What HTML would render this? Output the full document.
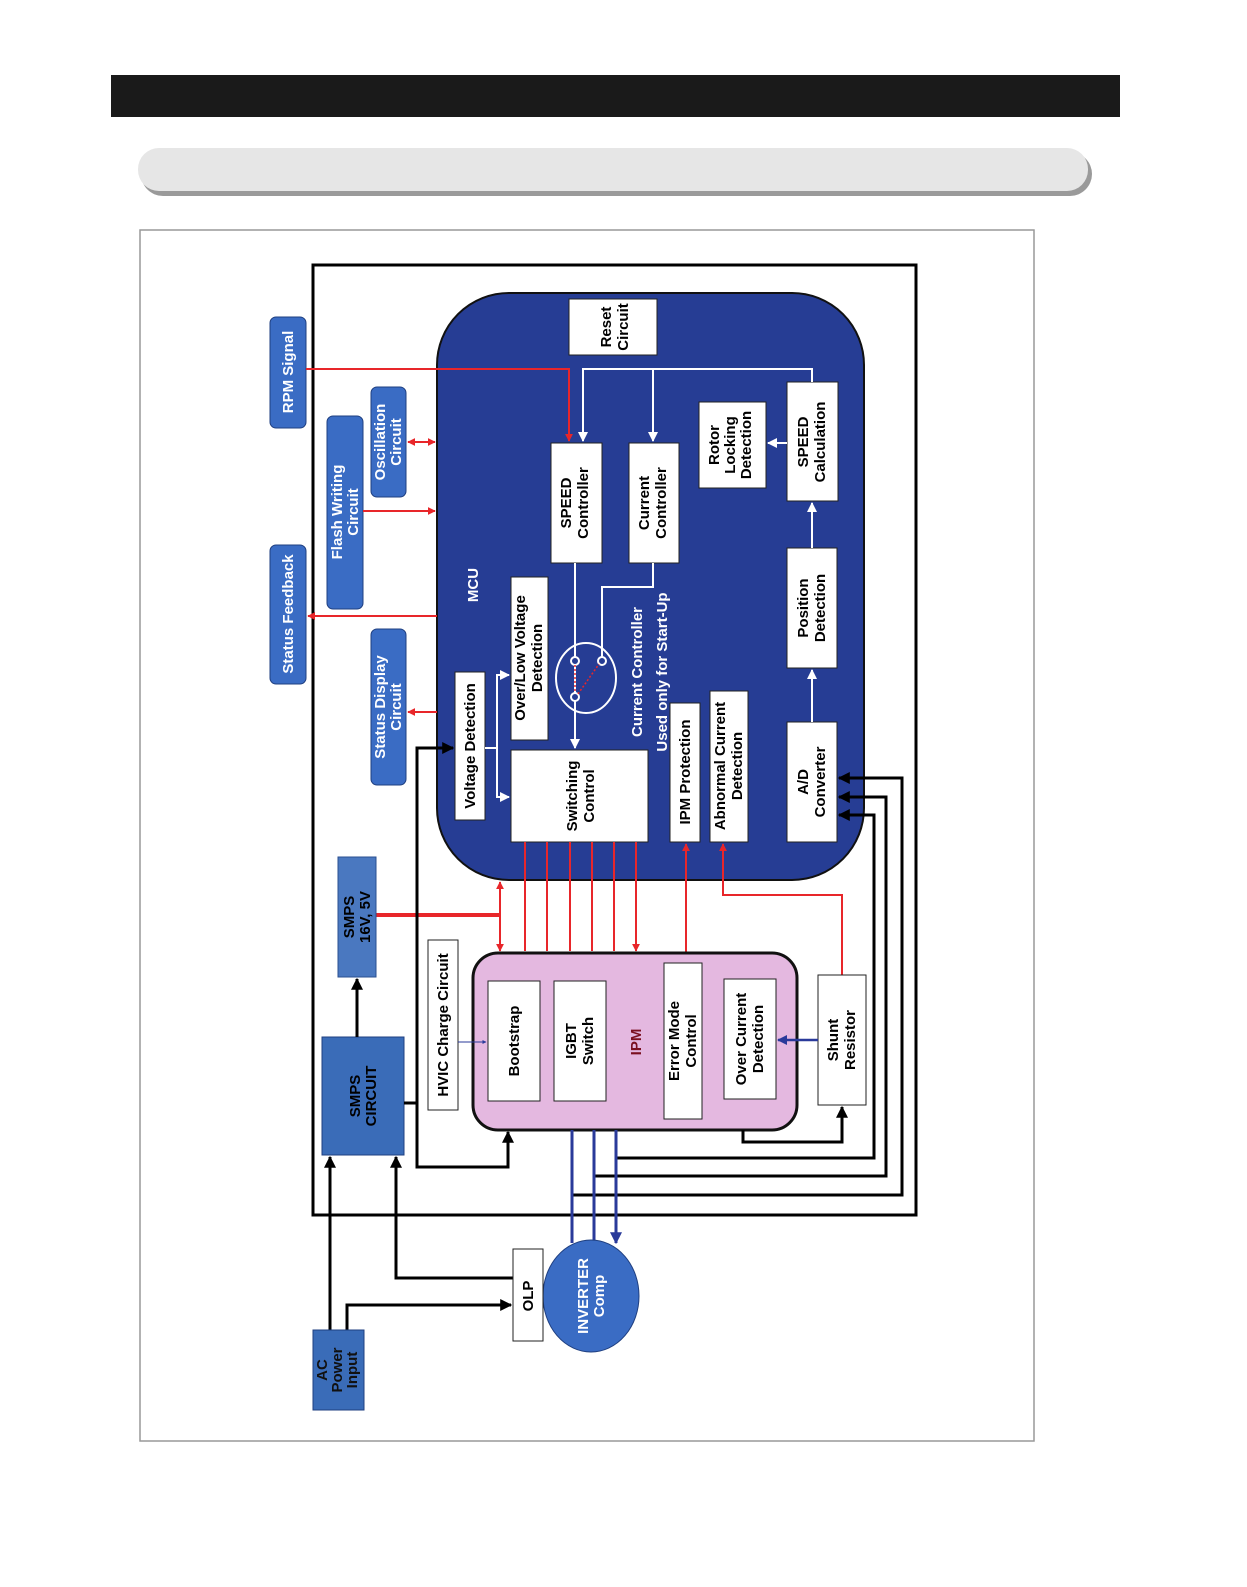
<!DOCTYPE html>
<html><head><meta charset="utf-8"><style>
html,body{margin:0;padding:0;background:#fff;overflow:hidden;width:1247px;height:1587px}
svg{display:block}
text{font-family:"Liberation Sans",Arial,sans-serif;font-weight:bold;font-size:15px}
</style></head><body>
<svg width="1247" height="1587" viewBox="0 0 1247 1587" xmlns="http://www.w3.org/2000/svg">
<defs>
<marker id="ar" viewBox="0 0 10 10" refX="9" refY="5" markerWidth="4" markerHeight="4" orient="auto-start-reverse"><path d="M0,0L10,5L0,10z" fill="#e8262a"/></marker>
<marker id="aw" viewBox="0 0 10 10" refX="9" refY="5" markerWidth="5" markerHeight="5" orient="auto"><path d="M0,0L10,5L0,10z" fill="#fff"/></marker>
<marker id="ak" viewBox="0 0 10 10" refX="9" refY="5" markerWidth="4" markerHeight="4" orient="auto"><path d="M0,0L10,5L0,10z" fill="#000"/></marker>
<marker id="ab" viewBox="0 0 10 10" refX="9" refY="5" markerWidth="4" markerHeight="4" orient="auto"><path d="M0,0L10,5L0,10z" fill="#2a3a9a"/></marker>
</defs>
<rect x="111" y="75" width="1009" height="42" fill="#1a1a1a"/>
<rect x="141" y="152" width="951" height="44" rx="22" fill="#9a9a9a"/>
<rect x="138" y="148" width="950" height="43" rx="21" fill="#e6e6e6"/>
<rect x="140" y="230" width="894" height="1211" fill="none" stroke="#999" stroke-width="1.5"/>
<rect x="313" y="265" width="603" height="950" fill="none" stroke="#000" stroke-width="3"/>

<!-- MCU -->
<rect x="437" y="293" width="427" height="587" rx="72" fill="#263d94" stroke="#111" stroke-width="2"/>
<g fill="#fff" stroke="#222" stroke-width="1">
<rect x="569" y="299" width="88" height="56"/>
<rect x="551" y="443" width="51" height="120"/>
<rect x="629" y="443" width="50" height="120"/>
<rect x="699" y="402" width="67" height="86"/>
<rect x="787" y="382" width="51" height="119"/>
<rect x="787" y="548" width="50" height="120"/>
<rect x="787" y="722" width="50" height="120"/>
<rect x="511" y="577" width="37" height="163"/>
<rect x="455" y="672" width="30" height="148"/>
<rect x="511" y="750" width="137" height="92"/>
<rect x="670" y="703" width="30" height="139"/>
<rect x="710" y="691" width="38" height="151"/>
</g>
<g fill="none" stroke="#fff" stroke-width="2">
<path d="M812,382V369H583V441" marker-end="url(#aw)"/>
<path d="M653,369V441" marker-end="url(#aw)"/>
<path d="M575,563V748" marker-end="url(#aw)"/>
<path d="M653,563V587H602V660"/>
<path d="M485,748H497V675H509" marker-end="url(#aw)"/>
<path d="M497,748V797H509" marker-end="url(#aw)"/>
<path d="M787,443H768" marker-end="url(#aw)"/>
<path d="M812,548V503" marker-end="url(#aw)"/>
<path d="M812,722V670" marker-end="url(#aw)"/>
<ellipse cx="586" cy="678" rx="30" ry="35"/>
</g>
<g fill="#263d94" stroke="#fff" stroke-width="2"><circle cx="575" cy="661" r="4"/><circle cx="602" cy="661" r="4"/><circle cx="575" cy="697" r="4"/></g>
<path d="M575,665V693M578,694L599,664" stroke="#e8262a" stroke-width="1.5" stroke-dasharray="2,2"/>

<g fill="#000">
<text transform="translate(611,327) rotate(-90)" text-anchor="middle">Reset<tspan x="0" dy="17">Circuit</tspan></text>
<text transform="translate(571,503) rotate(-90)" text-anchor="middle">SPEED<tspan x="0" dy="17">Controller</tspan></text>
<text transform="translate(649,503) rotate(-90)" text-anchor="middle">Current<tspan x="0" dy="17">Controller</tspan></text>
<text transform="translate(719,445) rotate(-90)" text-anchor="middle">Rotor<tspan x="0" dy="16">Locking</tspan><tspan x="0" dy="16">Detection</tspan></text>
<text transform="translate(808,442) rotate(-90)" text-anchor="middle">SPEED<tspan x="0" dy="17">Calculation</tspan></text>
<text transform="translate(808,608) rotate(-90)" text-anchor="middle">Position<tspan x="0" dy="17">Detection</tspan></text>
<text transform="translate(808,782) rotate(-90)" text-anchor="middle">A/D<tspan x="0" dy="17">Converter</tspan></text>
<text transform="translate(525,658) rotate(-90)" text-anchor="middle">Over/Low Voltage<tspan x="0" dy="17">Detection</tspan></text>
<text transform="translate(475,746) rotate(-90)" text-anchor="middle">Voltage Detection</text>
<text transform="translate(577,796) rotate(-90)" text-anchor="middle">Switching<tspan x="0" dy="17">Control</tspan></text>
<text transform="translate(690,772) rotate(-90)" text-anchor="middle">IPM Protection</text>
<text transform="translate(725,766) rotate(-90)" text-anchor="middle">Abnormal Current<tspan x="0" dy="17">Detection</tspan></text>
</g>
<g fill="#fff">
<text transform="translate(478,585) rotate(-90)" text-anchor="middle">MCU</text>
<text transform="translate(642,672) rotate(-90)" text-anchor="middle">Current Controller</text>
<text transform="translate(667,672) rotate(-90)" text-anchor="middle">Used only for Start-Up</text>
</g>

<!-- left blue boxes -->
<g fill="#3a6cc4" stroke="#1f3f80" stroke-width="1">
<rect x="270" y="317" width="36" height="111" rx="6"/>
<rect x="270" y="545" width="36" height="139" rx="6"/>
<rect x="327" y="416" width="36" height="193" rx="6"/>
<rect x="371" y="387" width="35" height="110" rx="6"/>
<rect x="371" y="629" width="35" height="156" rx="6"/>
</g>
<g fill="#fff">
<text transform="translate(293,372) rotate(-90)" text-anchor="middle">RPM Signal</text>
<text transform="translate(293,614) rotate(-90)" text-anchor="middle">Status Feedback</text>
<text transform="translate(342,512) rotate(-90)" text-anchor="middle">Flash Writing<tspan x="0" dy="16">Circuit</tspan></text>
<text transform="translate(385,442) rotate(-90)" text-anchor="middle">Oscillation<tspan x="0" dy="16">Circuit</tspan></text>
<text transform="translate(385,707) rotate(-90)" text-anchor="middle">Status Display<tspan x="0" dy="16">Circuit</tspan></text>
</g>
<g fill="none" stroke="#e8262a" stroke-width="2">
<path d="M306,369H569V441" marker-end="url(#ar)"/>
<path d="M408,442H435" marker-start="url(#ar)" marker-end="url(#ar)"/>
<path d="M363,511H435" marker-end="url(#ar)"/>
<path d="M437,616H308" marker-end="url(#ar)"/>
<path d="M437,712H408" marker-end="url(#ar)"/>
<path d="M525,842V951M547,842V951M570,842V951M592,842V951M614,842V951M636,842V951" marker-end="url(#ar)"/>
<path d="M500,882V951" marker-start="url(#ar)" marker-end="url(#ar)"/>
<path d="M686,964V844" marker-end="url(#ar)"/>
<path d="M842,975V895H723V844" marker-end="url(#ar)"/>
</g>
<path d="M376,915H500" stroke="#e8262a" stroke-width="4"/>

<!-- SMPS -->
<rect x="338" y="857" width="38" height="120" fill="#4a78c0" stroke="#2a4f90"/>
<rect x="322" y="1037" width="82" height="118" fill="#3a6cb8" stroke="#1f3f80"/>
<text transform="translate(354,917) rotate(-90)" text-anchor="middle">SMPS<tspan x="0" dy="16">16V, 5V</tspan></text>
<text transform="translate(360,1096) rotate(-90)" text-anchor="middle">SMPS<tspan x="0" dy="16">CIRCUIT</tspan></text>

<!-- IPM -->
<rect x="473" y="953" width="324" height="177" rx="25" fill="#e4b8e0" stroke="#111" stroke-width="3"/>
<g fill="#fff" stroke="#222" stroke-width="1">
<rect x="428" y="940" width="30" height="170"/>
<rect x="488" y="981" width="52" height="120"/>
<rect x="554" y="981" width="52" height="120"/>
<rect x="664" y="963" width="38" height="156"/>
<rect x="724" y="979" width="52" height="120"/>
<rect x="818" y="975" width="48" height="130"/>
</g>
<g fill="#000">
<text transform="translate(448,1025) rotate(-90)" text-anchor="middle">HVIC Charge Circuit</text>
<text transform="translate(519,1041) rotate(-90)" text-anchor="middle">Bootstrap</text>
<text transform="translate(576,1041) rotate(-90)" text-anchor="middle">IGBT<tspan x="0" dy="17">Switch</tspan></text>
<text transform="translate(679,1041) rotate(-90)" text-anchor="middle">Error Mode<tspan x="0" dy="17">Control</tspan></text>
<text transform="translate(746,1039) rotate(-90)" text-anchor="middle">Over Current<tspan x="0" dy="17">Detection</tspan></text>
<text transform="translate(838,1040) rotate(-90)" text-anchor="middle">Shunt<tspan x="0" dy="17">Resistor</tspan></text>
</g>
<text transform="translate(641,1042) rotate(-90)" text-anchor="middle" fill="#7a1020">IPM</text>
<path d="M458,1042H486" stroke="#2a3a9a" stroke-width="1" fill="none" marker-end="url(#ab)"/>
<path d="M818,1040H778" stroke="#2a3a9a" stroke-width="2.5" fill="none" marker-end="url(#ab)"/>

<!-- black lines -->
<g fill="none" stroke="#000" stroke-width="3">
<path d="M743,1130V1142H842V1107" marker-end="url(#ak)"/>
<path d="M616,1158H874V815H839" marker-end="url(#ak)"/>
<path d="M594,1176H886V797H839" marker-end="url(#ak)"/>
<path d="M572,1195H902V778H839" marker-end="url(#ak)"/>
<path d="M404,1103H417V1167H508V1132" marker-end="url(#ak)"/>
<path d="M417,1103V748H453" marker-end="url(#ak)"/>
<path d="M357,1037V979" marker-end="url(#ak)"/>
<path d="M330,1330V1157" marker-end="url(#ak)"/>
<path d="M347,1330V1305H511" marker-end="url(#ak)"/>
<path d="M513,1278H396V1157" marker-end="url(#ak)"/>
</g>
<g fill="none" stroke="#2a3a9a" stroke-width="3">
<path d="M572,1130V1243M594,1130V1243M616,1130V1243" marker-end="url(#ab)"/>
</g>

<!-- inverter / OLP / AC -->
<ellipse cx="591" cy="1296" rx="48" ry="56" fill="#3a6cc4" stroke="#1f3f80"/>
<text transform="translate(588,1296) rotate(-90)" text-anchor="middle" fill="#fff">INVERTER<tspan x="0" dy="16">Comp</tspan></text>
<rect x="513" y="1249" width="30" height="92" fill="#fff" stroke="#222"/>
<text transform="translate(533,1296) rotate(-90)" text-anchor="middle">OLP</text>
<rect x="313" y="1330" width="51" height="80" fill="#3a6cb8" stroke="#1f3f80"/>
<text transform="translate(327,1370) rotate(-90)" text-anchor="middle" fill="#111">AC<tspan x="0" dy="15">Power</tspan><tspan x="0" dy="15">Input</tspan></text>
</svg>
</body></html>
